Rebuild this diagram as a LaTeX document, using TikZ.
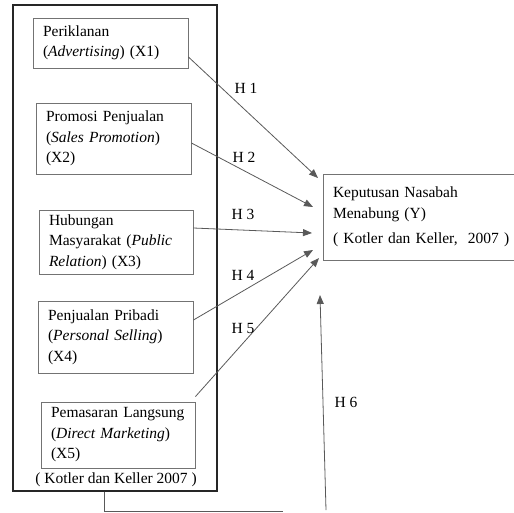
\documentclass[tikz,border=0pt]{standalone}
\usepackage{fontspec}
\setmainfont{Liberation Serif}
\usetikzlibrary{arrows.meta,calc}
\begin{document}
\begin{tikzpicture}[x=1pt,y=-1pt,
  every node/.style={font=\fontsize{15.5}{20.5}\selectfont, text=black},
  varbox/.style={draw=black!55, line width=0.9pt, rectangle, align=left, inner xsep=10pt, inner ysep=0pt, anchor=center},
  outerbox/.style={draw=black!85, line width=1.3pt},
  hyp/.style={draw=black!65, line width=0.8pt, -{Triangle[length=9pt,width=7pt]}},
  plain/.style={draw=black!65, line width=0.8pt},
  hlabel/.style={inner sep=0pt}]
\clip (0,0) rectangle (514,512);
\path[use as bounding box] (0,0) rectangle (514,512);

% outer frame
\node[outerbox, minimum width=204pt, minimum height=486pt, inner sep=0pt] (outer) at (115,248) {};

% variable boxes
\node[varbox, text width=135pt, minimum height=50pt] (b1) at (110.5,43) {Periklanan\\(\textit{Advertising}) (X1)};
\node[varbox, text width=135pt, minimum height=71pt] (b2) at (113.5,138.5) {Promosi Penjualan\\(\textit{Sales Promotion})\\(X2)};
\node[varbox, text width=134pt, minimum height=64pt] (b3) at (116,242) {Hubungan\\Masyarakat (\textit{Public}\\\textit{Relation}) (X3)};
\node[varbox, text width=135pt, minimum height=72pt] (b4) at (115.5,337) {Penjualan Pribadi\\(\textit{Personal Selling})\\(X4)};
\node[varbox, text width=134pt, minimum height=66pt] (b5) at (118,435) {Pemasaran Langsung\\(\textit{Direct Marketing})\\(X5)};
\node[inner sep=0pt] (src) at (116,480) {( Kotler dan Keller 2007 )};

% dependent variable box
\node[varbox, text width=173pt, minimum height=86pt] (y) at (419.5,217) {Keputusan Nasabah\\Menabung (Y)\\[5pt]\mbox{( Kotler dan Keller,\ \ 2007 )}};

% start and end points of connectors
\coordinate (s1) at ($(b1.east)+(0,14)$);
\coordinate (s2) at ($(b2.east)+(0,4.5)$);
\coordinate (s3) at ($(b3.east)+(0,-14)$);
\coordinate (s4) at ($(b4.east)+(0,-17)$);
\coordinate (s5) at ($(b5.north east)+(0,-5)$);
\coordinate (t1) at (318,178);
\coordinate (t2) at (313,207);
\coordinate (t3) at (312,233);
\coordinate (t4) at (313,250);
\coordinate (t5) at (319,258);

\draw[hyp] (s1) -- (t1);
\draw[hyp] (s2) -- (t2);
\draw[hyp] (s3) -- (t3);
\draw[hyp] (s4) -- (t4);
\draw[hyp] (s5) -- (t5);

% H6 connector
\coordinate (c0) at (outer.south -| 104,0);
\coordinate (c1) at (104,511);
\coordinate (c2) at (283,511);
\coordinate (h6s) at (326,510);
\coordinate (h6t) at (320,295);
\draw[plain] (c0) -- (c1) -- (c2);
\draw[hyp] (h6s) -- (h6t);

% labels
\node[hlabel] (l1) at (246,88) {H 1};
\node[hlabel] (l2) at (244,157) {H 2};
\node[hlabel] (l3) at (243,214) {H 3};
\node[hlabel] (l4) at (243,275) {H 4};
\node[hlabel] (l5) at (243,328) {H 5};
\node[hlabel] (l6) at (346,402) {H 6};
\end{tikzpicture}
\end{document}
